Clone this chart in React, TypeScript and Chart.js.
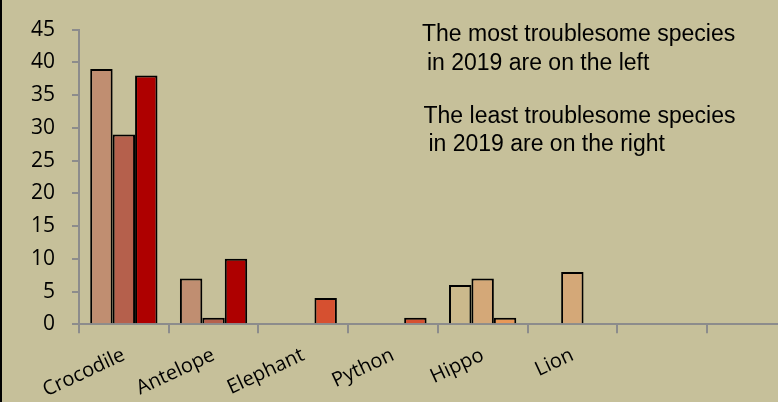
import React, { useEffect, useRef } from "react";
import { Chart, registerables } from "chart.js";

Chart.register(...registerables);

const categories = ["Crocodile", "Antelope", "Elephant", "Python", "Hippo", "Lion", "", ""];
const series1: (number | null)[] = [39, 7, null, null, 6, null, null, null];
const series2: (number | null)[] = [29, 1, null, null, 7, 8, null, null];
const series3: (number | null)[] = [38, 10, 4, 1, 1, null, null, null];

const colors1 = ["#c08e71", "#c08e71", "#c08e71", "#c08e71", "#cbb98c", "#cbb98c", "#cbb98c", "#cbb98c"];
const colors2 = ["#b5604c", "#b5604c", "#b5604c", "#b5604c", "#d4a878", "#d4a878", "#d4a878", "#d4a878"];
const colors3 = ["#ae0000", "#ae0000", "#d65030", "#d65030", "#e89858", "#e89858", "#e89858", "#e89858"];

const yMin = 0;
const yMax = 45;
const yStep = 5;

const notes = [
  "The most troublesome species",
  " in 2019 are on the left",
  "The least troublesome species",
  " in 2019 are on the right",
];

const BG = "#c6c09a";
const AXIS = "#8c8c8c";

const bgPlugin = {
  id: "bgPlugin",
  beforeDraw(chart: any) {
    const ctx = chart.ctx;
    ctx.save();
    ctx.fillStyle = BG;
    ctx.fillRect(0, 0, chart.width, chart.height);
    ctx.fillStyle = "#000";
    ctx.fillRect(0, 0, 2, chart.height);
    ctx.restore();
  },
};

export default function App() {
  const ref = useRef<HTMLCanvasElement | null>(null);

  useEffect(() => {
    if (!ref.current) return;
    const mk = (data: (number | null)[], colors: string[]) => ({
      data,
      backgroundColor: colors,
      borderColor: "#000",
      borderWidth: 2,
      categoryPercentage: 0.75,
      barPercentage: 1.0,
    });
    const chart = new Chart(ref.current, {
      type: "bar",
      data: {
        labels: categories,
        datasets: [mk(series1, colors1), mk(series2, colors2), mk(series3, colors3)],
      },
      options: {
        responsive: false,
        animation: false,
        devicePixelRatio: 1,
        layout: { padding: { left: 0, top: 25.7, right: 3.4, bottom: 0 } },
        plugins: {
          legend: { display: false },
          tooltip: { enabled: false },
        },
        scales: {
          x: {
            z: 1,
            grid: {
              drawOnChartArea: false,
              drawTicks: true,
              tickLength: 9,
              color: AXIS,
              lineWidth: 2,
              offset: true,
            },
            border: { color: AXIS, width: 2 },
            ticks: {
              autoSkip: false,
              minRotation: 25,
              maxRotation: 25,
              padding: 10,
              color: "#000",
              font: { family: "'Open Sans'", size: 20 },
            },
            afterFit: (s: any) => {
              s.height = 402 - 324.3;
            },
          },
          y: {
            min: yMin,
            max: yMax,
            grid: {
              drawOnChartArea: false,
              drawTicks: true,
              tickLength: 7,
              color: AXIS,
              lineWidth: 2,
            },
            border: { color: AXIS, width: 2 },
            ticks: {
              stepSize: yStep,
              padding: 17,
              color: "#000",
              font: { family: "'Open Sans'", size: 21 },
            },
            afterFit: (s: any) => {
              s.width = 79;
            },
          },
        },
      },
      plugins: [bgPlugin],
    });
    return () => chart.destroy();
  }, []);

  const noteStyle = (left: number, top: number): React.CSSProperties => ({
    position: "absolute",
    left,
    top,
    fontFamily: "'Liberation Sans', Arial, sans-serif",
    fontSize: 23,
    lineHeight: "23px",
    color: "#000",
    whiteSpace: "pre",
  });

  const notePos = [
    [422, 21.5],
    [420.5, 50.5],
    [423.5, 103.8],
    [422, 132.2],
  ];

  return (
    <div
      style={{
        position: "fixed",
        left: 0,
        top: 0,
        width: 778,
        height: 402,
        overflow: "hidden",
        background: BG,
      }}
    >
      <canvas ref={ref} width={800} height={402} style={{ display: "block" }} />
      {notes.map((t, i) => (
        <div key={i} style={noteStyle(notePos[i][0], notePos[i][1])}>
          {t}
        </div>
      ))}
    </div>
  );
}
